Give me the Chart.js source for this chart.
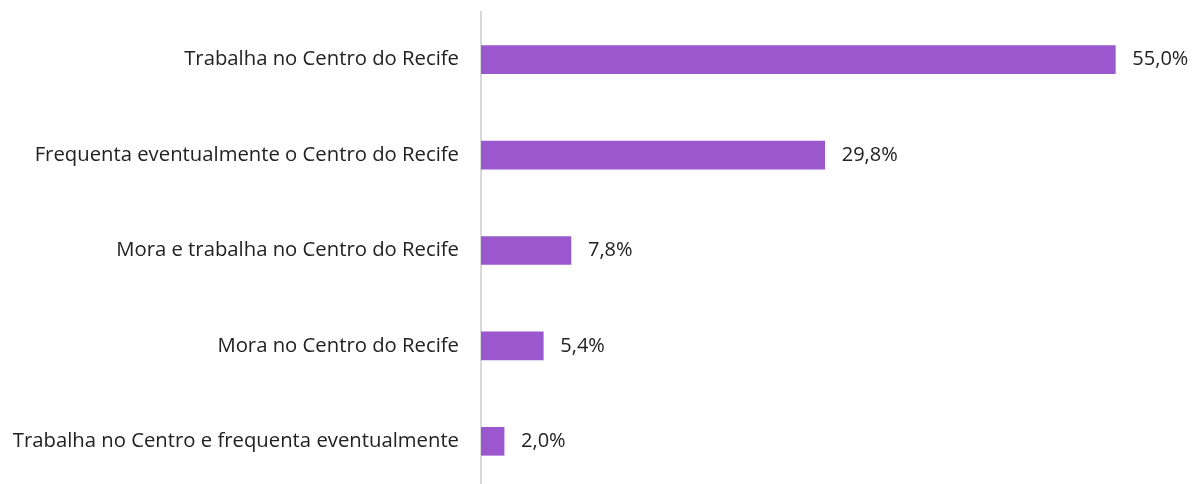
<!DOCTYPE html>
<html>
<head>
<meta charset="utf-8">
<script src="https://cdn.jsdelivr.net/npm/chart.js@4/dist/chart.umd.min.js"></script>
<style>
html,body{margin:0;padding:0;background:#fff;overflow:hidden;width:1193px;height:484px;}
canvas{display:block;}
</style>
</head>
<body>
<canvas id="c" width="1193" height="489"></canvas>
<script>
const categories = [
  "Trabalha no Centro do Recife",
  "Frequenta eventualmente o Centro do Recife",
  "Mora e trabalha no Centro do Recife",
  "Mora no Centro do Recife",
  "Trabalha no Centro e frequenta eventualmente"
];
const values = [55.0, 29.8, 7.8, 5.4, 2.0];
const valueLabels = ["55,0%", "29,8%", "7,8%", "5,4%", "2,0%"];

const FONT = "'Open Sans'";
const labelPlugin = {
  id: 'valueLabels',
  afterDatasetsDraw(chart) {
    const ctx = chart.ctx;
    const meta = chart.getDatasetMeta(0);
    ctx.save();
    ctx.font = "20px " + FONT;
    ctx.fillStyle = "#222222";
    ctx.textAlign = "left";
    ctx.textBaseline = "middle";
    meta.data.forEach((bar, i) => {
      ctx.fillText(valueLabels[i], bar.x + 17, bar.y);
    });
    ctx.restore();
  }
};

new Chart(document.getElementById('c'), {
  type: 'bar',
  data: {
    labels: categories,
    datasets: [{
      data: values,
      backgroundColor: '#9b57cd',
      barThickness: 28
    }]
  },
  options: {
    indexAxis: 'y',
    responsive: false,
    animation: false,
    layout: { padding: { top: 12, right: 20, bottom: 0, left: 0 } },
    plugins: { legend: { display: false }, tooltip: { enabled: false } },
    scales: {
      x: { display: false, min: 0, max: 60 },
      y: {
        afterFit(scale) { scale.width = 481; scale.paddingTop = 0; scale.paddingBottom = 0; },
        grid: { display: false, drawTicks: false },
        border: { display: true, color: '#d9d9d9', width: 2 },
        ticks: { padding: 22, color: '#222222', font: { family: "Open Sans", size: 20.3 } }
      }
    }
  },
  plugins: [labelPlugin]
});
</script>
</body>
</html>
